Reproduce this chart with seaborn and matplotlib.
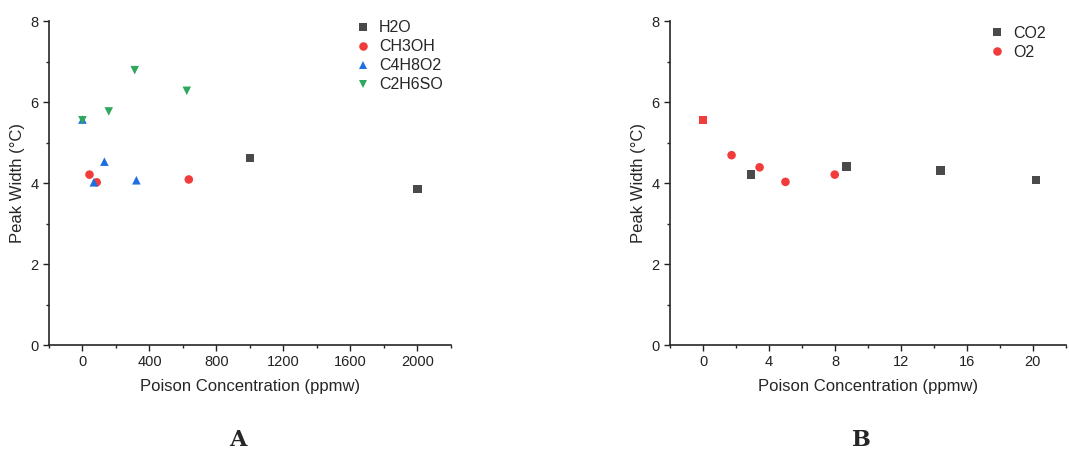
"""
Peak width vs poison concentration, two panels (A: liquids, B: gases).
"""
import pandas as pd
import matplotlib
matplotlib.use("Agg")
import matplotlib.pyplot as plt
from matplotlib.ticker import MultipleLocator
import seaborn as sns

# panel A (the shared 0 ppmw baseline is only visible for C4H8O2 / C2H6SO)
h2o_x = [1000, 2000]
h2o_y = [4.62, 3.85]
ch3oh_x = [42, 85, 635]
ch3oh_y = [4.21, 4.02, 4.09]
c4h8o2_x = [0, 68, 131, 322]
c4h8o2_y = [5.57, 4.02, 4.53, 4.07]
c2h6so_x = [0, 157, 312, 623]
c2h6so_y = [5.55, 5.77, 6.79, 6.28]

# panel B
co2_x = [2.9, 8.7, 14.4, 20.2]
co2_y = [4.21, 4.41, 4.31, 4.08]
o2_x = [1.72, 3.42, 4.99, 7.98]
o2_y = [4.69, 4.39, 4.03, 4.21]
baseline_x = [0]
baseline_y = [5.55]

colors = {"H2O": "#4a4a4a", "CH3OH": "#f23b3b", "C4H8O2": "#1f6fe0", "C2H6SO": "#2fa85e",
          "CO2": "#4a4a4a", "O2": "#f23b3b"}
markers = {"H2O": "s", "CH3OH": "o", "C4H8O2": "^", "C2H6SO": "v", "CO2": "s", "O2": "o"}


def make_df(series):
    rows = []
    for name, xs, ys in series:
        for x, y in zip(xs, ys):
            rows.append({"gas": name, "conc": x, "width": y})
    return pd.DataFrame(rows)


df_a = make_df([("H2O", h2o_x, h2o_y), ("CH3OH", ch3oh_x, ch3oh_y),
                ("C4H8O2", c4h8o2_x, c4h8o2_y), ("C2H6SO", c2h6so_x, c2h6so_y)])
df_b = make_df([("CO2", co2_x, co2_y), ("O2", o2_x, o2_y)])

sns.set_style("ticks")
plt.rcParams["font.family"] = ["Liberation Sans", "DejaVu Sans"]

fig = plt.figure(figsize=(10.69, 4.51), dpi=100)
ax_a = fig.add_axes([0.0458, 0.235, 0.376, 0.718])
ax_b = fig.add_axes([0.627, 0.235, 0.370, 0.718])


def style_panel(ax, df, order, xlim, xmajor, xminor, legend_anchor):
    sns.scatterplot(data=df, x="conc", y="width", hue="gas", style="gas",
                    hue_order=order, style_order=order,
                    palette={k: colors[k] for k in order},
                    markers={k: markers[k] for k in order},
                    s=38, linewidth=0, ax=ax)
    ax.set_xlim(*xlim)
    ax.set_ylim(0, 8)
    ax.xaxis.set_major_locator(MultipleLocator(xmajor))
    ax.xaxis.set_minor_locator(MultipleLocator(xminor))
    ax.yaxis.set_major_locator(MultipleLocator(2))
    ax.yaxis.set_minor_locator(MultipleLocator(1))
    ax.tick_params(which="major", length=4, width=1, labelsize=10.5, colors="#222222")
    ax.tick_params(which="minor", length=2.5, width=1)
    for side in ["left", "bottom"]:
        ax.spines[side].set_linewidth(1.2)
    sns.despine(ax=ax)
    ax.set_xlabel("Poison Concentration (ppmw)", fontsize=12, labelpad=7)
    ax.set_ylabel("Peak Width (°C)", fontsize=12)
    ax.legend(loc="upper right", bbox_to_anchor=legend_anchor, frameon=False,
              fontsize=11.5, handletextpad=0.2, handlelength=1.6, labelspacing=0.25,
              borderaxespad=0, markerscale=1.0)


style_panel(ax_a, df_a, ["H2O", "CH3OH", "C4H8O2", "C2H6SO"], (-200, 2200), 400, 200,
            (0.995, 1.022))
style_panel(ax_b, df_b, ["CO2", "O2"], (-2, 22), 4, 2, (0.965, 1.005))

# shared 0 ppmw point in panel B is drawn as a red square
sns.scatterplot(x=baseline_x, y=baseline_y, color=colors["O2"], marker="s",
                s=38, linewidth=0, legend=False, ax=ax_b)

fig.text(0.222, 0.01, "A", fontsize=16, fontweight="bold", family="DejaVu Serif", ha="center")
fig.text(0.806, 0.01, "B", fontsize=16, fontweight="bold", family="DejaVu Serif", ha="center")

fig.savefig("out.png", dpi=100)
